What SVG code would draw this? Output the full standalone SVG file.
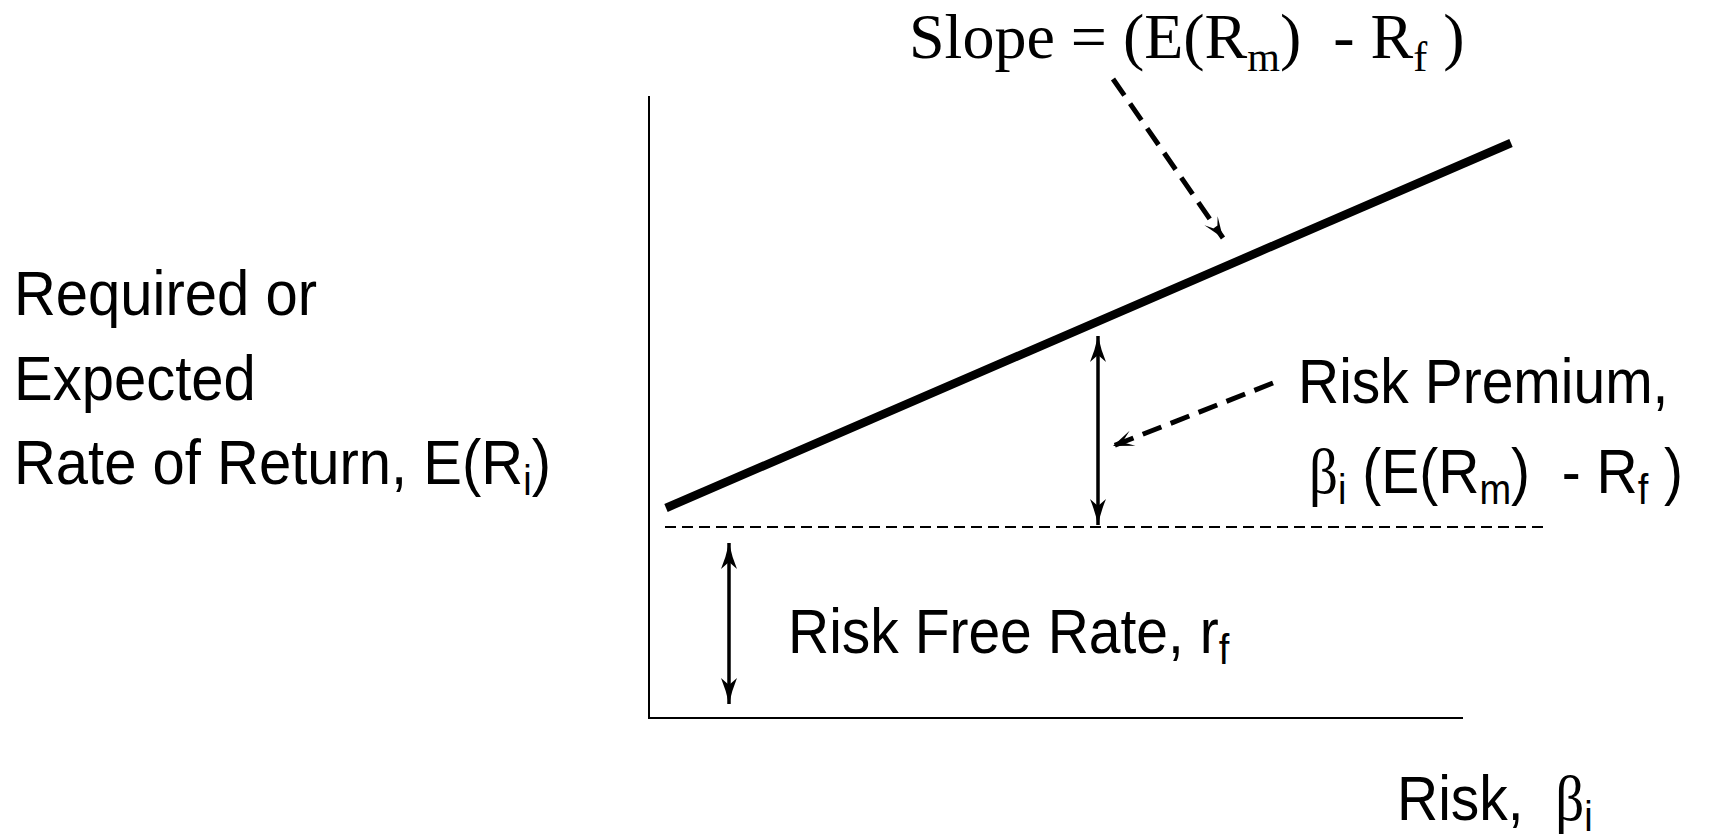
<svg xmlns="http://www.w3.org/2000/svg" width="1711" height="836" viewBox="0 0 1711 836">
<style>
.sans{font-family:"Liberation Sans",Arial,sans-serif;font-size:57px;fill:#000;white-space:pre}
.big{font-size:58px}
.sub{font-size:38px}
.serif{font-family:"Liberation Serif","Times New Roman",serif;font-size:64px;fill:#000;white-space:pre}
.ssub{font-size:42px}
.beta{font-family:"Liberation Serif","DejaVu Serif",serif}
.axis{stroke:#000;stroke-width:2;fill:none}
.sml{stroke:#000;stroke-width:8.5;fill:none}
.rf{stroke:#000;stroke-width:2;stroke-dasharray:11 6;fill:none}
.dbl{stroke:#000;stroke-width:3.5;fill:none;marker-start:url(#head);marker-end:url(#head)}
.dash{stroke:#000;stroke-width:5;stroke-dasharray:20 10;fill:none;marker-end:url(#dhead)}
</style>
<defs>
<marker id="head" markerUnits="userSpaceOnUse" markerWidth="30" markerHeight="20" viewBox="-28 -10 30 20" refX="0" refY="0" orient="auto-start-reverse">
<path d="M0,0 Q-14,-3 -26,-8 L-19,0 L-26,8 Q-14,3 0,0 Z" fill="#000"/>
</marker>
<marker id="dhead" markerUnits="userSpaceOnUse" markerWidth="26" markerHeight="20" viewBox="-24 -10 26 20" refX="0" refY="0" orient="auto">
<path d="M0,0 L-21,-8 L-10,0 L-21,8 Z" fill="#000"/>
</marker>
</defs>
<g id="axes">
<line class="axis" x1="649" y1="96" x2="649" y2="718"/>
<line class="axis" x1="648" y1="718" x2="1463" y2="718"/>
</g>
<g id="sml-line">
<line class="sml" x1="666" y1="508" x2="1511" y2="143"/>
</g>
<g id="risk-free-line">
<line class="rf" x1="665" y1="527" x2="1547" y2="527"/>
</g>
<g id="connectors">
<line class="dbl" x1="1098" y1="336" x2="1098" y2="525"/>
<line class="dbl" x1="729" y1="543" x2="729" y2="704"/>
<line class="dash" x1="1113" y1="79" x2="1223" y2="238"/>
<line class="dash" x1="1273" y1="383" x2="1113" y2="446"/>
</g>
<g id="slope-label">
<text class="serif" x="909" y="58">Slope = (E(R<tspan class="ssub" dy="13">m</tspan><tspan dy="-13">)  - R</tspan><tspan class="ssub" dy="13">f</tspan><tspan dy="-13"> )</tspan></text>
</g>
<g id="y-label">
<text class="sans big" transform="translate(14,315) scale(1,1.1)">Required or</text>
<text class="sans big" transform="translate(14,400) scale(1,1.1)">Expected</text>
<text class="sans big" transform="translate(14,484) scale(1,1.1)">Rate of Return, E(R<tspan class="sub" dy="10">i</tspan><tspan dy="-10">)</tspan></text>
</g>
<g id="risk-premium-label">
<text class="sans" transform="translate(1298,403) scale(1,1.1)">Risk Premium,</text>
<text class="sans" transform="translate(1309,493) scale(1,1.1)"><tspan class="beta">β</tspan><tspan class="sub" dy="10">i</tspan><tspan dy="-10"> (E(R</tspan><tspan class="sub" dy="10">m</tspan><tspan dy="-10">)  - R</tspan><tspan class="sub" dy="10">f</tspan><tspan dy="-10"> )</tspan></text>
</g>
<g id="risk-free-label">
<text class="sans" transform="translate(788,653) scale(1,1.1)">Risk Free Rate, r<tspan class="sub" dy="10">f</tspan></text>
</g>
<g id="x-label">
<text class="sans" transform="translate(1397,820) scale(1,1.1)">Risk,  <tspan class="beta">β</tspan><tspan class="sub" dy="10">i</tspan></text>
</g>
</svg>
